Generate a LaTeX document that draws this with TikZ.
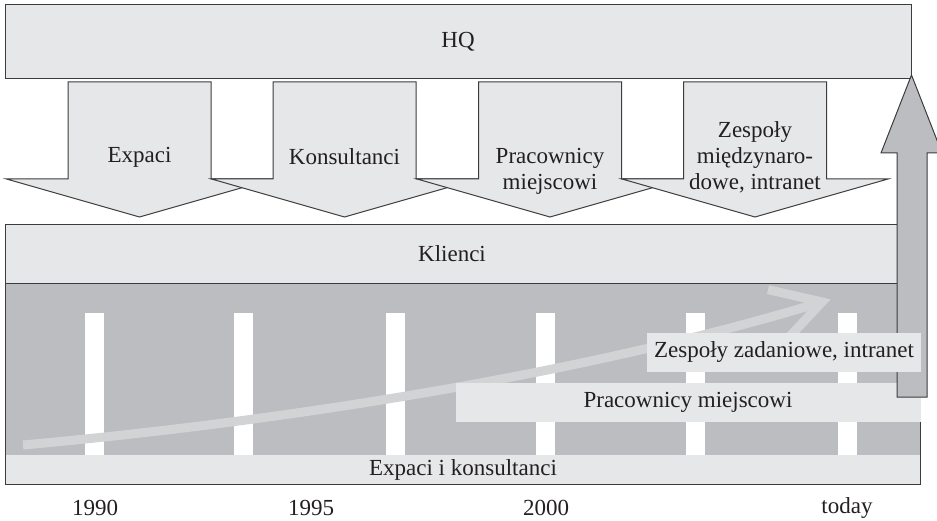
\documentclass[tikz,border=0pt]{standalone}
\usepackage{fontspec}
\setmainfont{Liberation Serif}
\definecolor{lightfill}{HTML}{E6E7E8}
\definecolor{darkfill}{HTML}{BCBDC0}
\definecolor{bandcol}{HTML}{D2D3D5}
\definecolor{bordercol}{HTML}{3C3C3C}
\definecolor{textcol}{HTML}{231F20}
\begin{document}
\begin{tikzpicture}[x=1pt,y=-1pt,
  box/.style={fill=lightfill, draw=bordercol, line width=1pt},
  plainbox/.style={fill=lightfill, draw=none},
  txt/.style={font=\fontsize{23}{26}\selectfont, text=textcol, align=center, inner sep=0pt},
  arrowshape/.style={fill=lightfill, draw=bordercol, line width=1pt, line join=miter},
  upshape/.style={fill=darkfill, draw=bordercol, line width=1pt, line join=miter},
  barfill/.style={fill=white, draw=none},
  band/.style={draw=bandcol, line width=9pt, line join=miter},
  downarrow/.pic={\draw[arrowshape] (-71.5,0) -- (71.5,0) -- (71.5,97) -- (133,97) -- (0,135) -- (-133,97) -- (-71.5,97) -- cycle;}
]
\useasboundingbox (0,0) rectangle (937,521);

% HQ
\path[box] (5,5) rectangle (911,79);
\node[txt] (hq) at (458,42) {HQ};

% down arrows
\pic at (139.5,82) {downarrow};
\pic at (344.5,82) {downarrow};
\pic at (550,82) {downarrow};
\pic at (755,82) {downarrow};
\node[txt] (a1) at (139.5,157) {Expaci};
\node[txt] (a2) at (344.5,157) {Konsultanci};
\node[txt] (a3) at (550,171) {Pracownicy\\miejscowi};
\node[txt] (a4) at (755,157) {Zespoły\\międzynaro-\\dowe, intranet};

% lower area
\path[fill=darkfill] (5,284) rectangle (920,484);
\foreach \bx in {85,234,386,536,686,838}{
  \path[barfill] (\bx,313) rectangle ++(18.5,142);
}
\coordinate (cs) at (23,445);
\coordinate (ct) at (822,302);
\coordinate (ca1) at (768,289.6);
\coordinate (ca2) at (784.5,342);
\draw[band] (cs) .. controls (300,420) and (600,370) .. (ct);
\draw[band] (ca1) -- (ct) -- (ca2);

\path[plainbox] (5,455) rectangle (920,484);
\node[txt] (ek) at (463,470) {Expaci i konsultanci};
\draw[bordercol, line width=1pt] (5,284) -- (5,484) -- (920,484) -- (920,284);

\path[plainbox] (456,383) rectangle (921,422);
\node[txt] (pm) at (688,402.5) {Pracownicy miejscowi};

% Klienci
\path[box] (5,225) rectangle (905,284);
\node[txt] (kl) at (452,254) {Klienci};

% up arrow
\draw[upshape] (897,397) -- (897,153) -- (881,153) -- (911.5,75) -- (942,153) -- (927,153) -- (927,397) -- cycle;

\path[plainbox] (647,333) rectangle (921,372);
\node[txt] (zz) at (784,352.5) {Zespoły zadaniowe, intranet};

% years
\node[txt] (y1) at (95,508) {1990};
\node[txt] (y2) at (311,508) {1995};
\node[txt] (y3) at (546,508) {2000};
\node[txt] (y4) at (847,508) {today};
\end{tikzpicture}
\end{document}
